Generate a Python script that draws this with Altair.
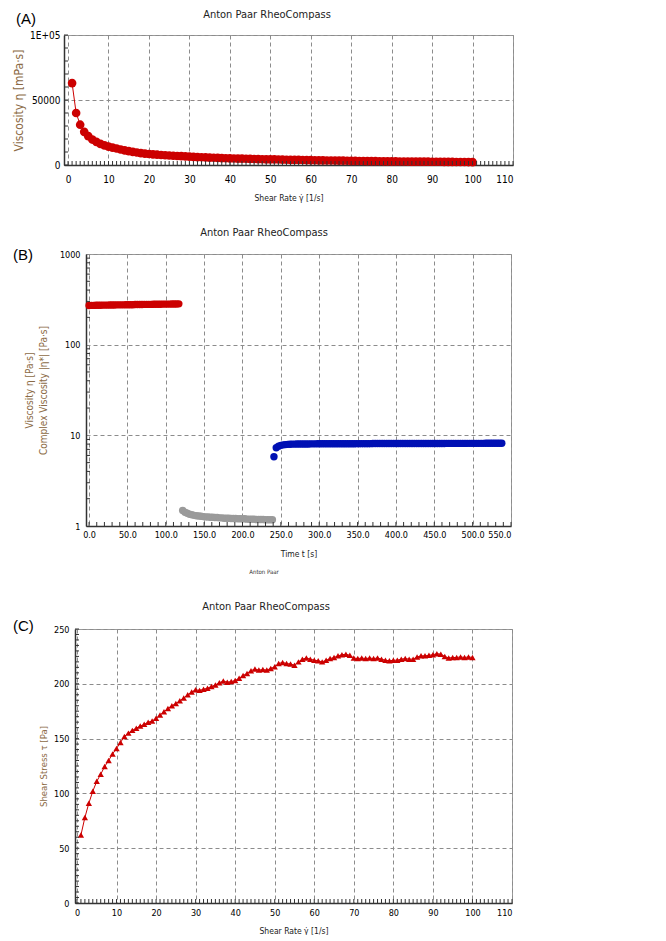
import altair as alt
import pandas as pd

# ---------------- data ----------------
rate = list(range(1, 101))

stress = [62, 78, 91, 102, 111, 117.5, 124.5, 130, 136, 141,
          146.5, 152, 155, 157.5, 159.5, 161.5, 163, 165, 166, 168.5,
          171.5, 174.5, 177.5, 180, 182, 184.5, 187, 190, 192.5, 194.5,
          194, 195, 196, 197.5, 199, 201, 202.5, 201.5, 202, 203,
          205, 207.5, 209.5, 212, 213.5, 212.5, 213, 212.5, 214, 215.5,
          218.5, 219.5, 218.5, 218, 217, 220, 222.5, 223.5, 222.5, 221.5,
          221, 220, 221.5, 223, 224, 225.5, 226.5, 227, 226, 223.5,
          223, 223.5, 223, 223.5, 223, 223.5, 222.5, 221.5, 221, 221.5,
          221.5, 222.5, 223, 222.5, 222.5, 224.5, 225.5, 225.5, 226, 226.5,
          227.5, 227, 225, 223.5, 224, 224, 224.5, 224, 224.5, 224]

visc = [63000, 40000, 31000, 25500, 22200, 19580, 17790, 16250, 15110, 14100,
        13320, 12670, 11920, 11250, 10630, 10090, 9590, 9170, 8740, 8430,
        8170, 7930, 7720, 7500, 7280, 7100, 6930, 6790, 6640, 6480,
        6260, 6090, 5940, 5810, 5690, 5580, 5470, 5300, 5180, 5080,
        5000, 4940, 4870, 4820, 4740, 4620, 4530, 4430, 4370, 4310,
        4280, 4220, 4120, 4040, 3950, 3930, 3900, 3850, 3770, 3690,
        3620, 3550, 3520, 3480, 3450, 3420, 3380, 3340, 3280, 3190,
        3140, 3100, 3050, 3020, 2970, 2940, 2890, 2840, 2800, 2770,
        2730, 2710, 2690, 2650, 2620, 2610, 2590, 2560, 2540, 2520,
        2500, 2470, 2420, 2380, 2360, 2330, 2310, 2290, 2270, 2240]

red_t = [0, 3, 6, 9, 12, 15, 18, 21, 24, 27, 30, 33, 36, 39, 42, 45, 48, 51, 54, 57,
         60, 63, 66, 69, 72, 75, 78, 81, 84, 87, 90, 93, 96, 99, 102, 105, 108, 111, 114, 117]
red_v = [270, 271, 271, 272, 272, 272, 273, 273, 273, 274, 274, 274, 275, 275, 275, 275,
         276, 276, 276, 276, 277, 277, 277, 277, 278, 278, 278, 278, 279, 279, 279, 279,
         280, 280, 280, 280, 281, 281, 281, 282]

gray_t = [122, 125, 128, 131, 134, 137, 140, 143, 146, 149, 152, 155, 158, 161, 164, 167,
          170, 173, 176, 179, 182, 185, 188, 191, 194, 197, 200, 203, 206, 209, 212, 215,
          218, 221, 224, 227, 230, 233, 236, 239]
gray_v = [1.48, 1.42, 1.38, 1.35, 1.33, 1.31, 1.30, 1.29, 1.28, 1.27, 1.26, 1.26, 1.25,
          1.25, 1.24, 1.24, 1.23, 1.23, 1.22, 1.22, 1.22, 1.21, 1.21, 1.21, 1.20, 1.20,
          1.20, 1.20, 1.19, 1.19, 1.19, 1.19, 1.18, 1.18, 1.18, 1.18, 1.17, 1.17, 1.17, 1.17]

blue_t = list(range(241, 539, 3))
blue_v = [5.8, 7.3, 7.6, 7.75, 7.85, 7.9, 7.95, 7.97, 8.0, 8.0,
          8.02, 8.02, 8.03, 8.03, 8.04, 8.04, 8.05, 8.05, 8.05, 8.06,
          8.06, 8.06, 8.07, 8.07, 8.07, 8.07, 8.08, 8.08, 8.08, 8.08,
          8.08, 8.09, 8.09, 8.09, 8.09, 8.09, 8.1, 8.1, 8.1, 8.1,
          8.1, 8.1, 8.1, 8.11, 8.11, 8.11, 8.11, 8.11, 8.11, 8.11,
          8.12, 8.12, 8.12, 8.12, 8.12, 8.12, 8.12, 8.12, 8.13, 8.13,
          8.13, 8.13, 8.13, 8.13, 8.13, 8.13, 8.14, 8.14, 8.14, 8.14,
          8.14, 8.14, 8.14, 8.14, 8.14, 8.15, 8.15, 8.15, 8.15, 8.15,
          8.15, 8.15, 8.15, 8.15, 8.16, 8.16, 8.16, 8.16, 8.16, 8.16,
          8.16, 8.16, 8.17, 8.17, 8.17, 8.17, 8.17, 8.17, 8.17, 8.17]

# tick positions / labels
A_xticks = list(range(0, 111, 10))
A_xminor = list(range(0, 111, 1))
A_yticks = [0, 50000, 100000]
A_yminor = list(range(0, 100001, 10000))
B_xticks = list(range(0, 551, 50))
B_xminor = list(range(0, 551, 10))
B_yticks = [1, 10, 100, 1000]
B_yminor = [2, 3, 4, 5, 6, 7, 8, 9, 20, 30, 40, 50, 60, 70, 80, 90,
            200, 300, 400, 500, 600, 700, 800, 900]
C_xticks = list(range(0, 111, 10))
C_xminor = list(range(0, 111, 1))
C_yticks = list(range(0, 251, 50))
C_yminor = list(range(0, 251, 5))

TITLE = "Anton Paar RheoCompass"

# ---------------- style ----------------
FN = "DejaVu Sans Condensed, Liberation Sans Narrow, Liberation Sans, Arial, sans-serif"
FP = "Liberation Sans, Arial, sans-serif"
RED = "#cc0000"
GRAY = "#9a9a9a"
BLUE = "#0010b4"
GRID = "#8c8c8c"
AXC = "#333333"
YT = "#8b6a45"
VIEW = alt.ViewBackground(stroke="#9a9a9a", strokeWidth=1)


def ax(**kw):
    base = dict(grid=True, gridColor=GRID, gridDash=[4, 3], gridWidth=1,
                domainColor=AXC, domainWidth=1.5, ticks=False, tickSize=0,
                labelFont=FN, labelColor="#000000", labelOverlap=False, titleFont=FN,
                titleFontWeight="normal", titleColor="#222222")
    base.update(kw)
    return alt.Axis(**base)


def label_text(txt, x, y, size=15, font=FP, color="#000000", align="left"):
    return alt.Chart(pd.DataFrame({"t": [txt]})).mark_text(
        align=align, baseline="middle", font=font, fontSize=size, color=color
    ).encode(x=alt.value(x), y=alt.value(y), text="t:N")


def minor_x(vals, xenc, h, ln=4):
    return alt.Chart(pd.DataFrame({"v": vals})).mark_rule(color=AXC, strokeWidth=1).encode(
        x=xenc("v"), y=alt.value(h), y2=alt.value(h - ln))


def minor_y(vals, yenc, ln=4):
    return alt.Chart(pd.DataFrame({"v": vals})).mark_rule(color=AXC, strokeWidth=1).encode(
        y=yenc("v"), x=alt.value(0), x2=alt.value(ln))


def spacer(w):
    return alt.Chart(pd.DataFrame({"a": [0]})).mark_point(opacity=0, size=1).encode(
        x=alt.value(0), y=alt.value(0)
    ).properties(width=w, height=2, view=alt.ViewBackground(stroke="transparent"))


# ---------------- panel A ----------------
wA, hA = 449, 130
sAx = alt.Scale(domain=[-1, 110], nice=False, zero=False)
sAy = alt.Scale(domain=[0, 100000], nice=False)
axAx = ax(values=A_xticks, labelFontSize=10, labelPadding=9,
          title="Shear Rate γ̇ [1/s]", titleFontSize=8.5, titlePadding=9)
axAy = ax(values=A_yticks, labelFontSize=10, labelPadding=4,
          labelExpr="datum.value >= 100000 ? '1E+05' : '' + datum.value",
          title="Viscosity η [mPa·s]", titleFontSize=12, titleColor=YT, titlePadding=4)
xA = lambda f: alt.X(f + ":Q", scale=sAx, axis=axAx)
yA = lambda f: alt.Y(f + ":Q", scale=sAy, axis=axAy)
dfA = pd.DataFrame({"rate": rate, "visc": visc})
lineA = alt.Chart(dfA).mark_line(color=RED, strokeWidth=1).encode(x=xA("rate"), y=yA("visc"))
ptsA = alt.Chart(dfA).mark_circle(color=RED, size=75, opacity=1).encode(x=xA("rate"), y=yA("visc"))
panelA = alt.layer(
    lineA, ptsA, minor_x(A_xminor, xA, hA), minor_y(A_yminor, yA),
    label_text("(A)", -48, -16),
    label_text(TITLE, 203, -20, size=11, font=FN, color="#222222", align="center"),
).properties(width=wA, height=hA, view=VIEW)

# ---------------- panel B ----------------
wB, hB = 425, 272
sBx = alt.Scale(domain=[-4, 550], nice=False, zero=False)
sBy = alt.Scale(type="log", domain=[1, 1000], nice=False)
axBx = ax(values=B_xticks, format=".1f", labelFontSize=9, labelPadding=4,
          title="Time t [s]", titleFontSize=8.5, titlePadding=10)
axBy = ax(values=B_yticks, labelFontSize=9, labelPadding=6, labelExpr="'' + datum.value",
          title=["Viscosity η [Pa·s]", "Complex Viscosity |η*| [Pa·s]"],
          titleFontSize=10, titleColor=YT, titlePadding=11, titleLineHeight=14)
xB = lambda f: alt.X(f + ":Q", scale=sBx, axis=axBx)
yB = lambda f: alt.Y(f + ":Q", scale=sBy, axis=axBy)
dfR = pd.DataFrame({"t": red_t, "v": red_v})
dfG = pd.DataFrame({"t": gray_t, "v": gray_v})
dfBl = pd.DataFrame({"t": blue_t, "v": blue_v})
redB = alt.Chart(dfR).mark_circle(color=RED, size=55, opacity=1).encode(x=xB("t"), y=yB("v"))
grayB = alt.Chart(dfG).mark_circle(color=GRAY, size=55, opacity=1).encode(x=xB("t"), y=yB("v"))
blueB = alt.Chart(dfBl).mark_circle(color=BLUE, size=55, opacity=1).encode(x=xB("t"), y=yB("v"))
panelB = alt.layer(
    redB, grayB, blueB, minor_x(B_xminor, xB, hB), minor_y(B_yminor, yB),
    label_text("(B)", -73, 1),
    label_text(TITLE, 178, -21, size=11, font=FN, color="#222222", align="center"),
    label_text("Anton Paar", 178, hB + 46, size=6, font=FN, color="#333333", align="center"),
).properties(width=wB, height=hB, view=VIEW)

# ---------------- panel C ----------------
wC, hC = 437, 274
sCx = alt.Scale(domain=[-0.5, 110], nice=False, zero=False)
sCy = alt.Scale(domain=[0, 250], nice=False)
axCx = ax(values=C_xticks, labelFontSize=9, labelPadding=5,
          title="Shear Rate γ̇ [1/s]", titleFontSize=8.5, titlePadding=9)
axCy = ax(values=C_yticks, labelFontSize=9, labelPadding=6,
          title="Shear Stress τ [Pa]", titleFontSize=9.5, titleColor=YT, titlePadding=5)
xC = lambda f: alt.X(f + ":Q", scale=sCx, axis=axCx)
yC = lambda f: alt.Y(f + ":Q", scale=sCy, axis=axCy)
dfC = pd.DataFrame({"rate": rate, "stress": stress})
lineC = alt.Chart(dfC).mark_line(color=RED, strokeWidth=1).encode(x=xC("rate"), y=yC("stress"))
ptsC = alt.Chart(dfC).mark_point(shape="triangle-up", filled=True, color=RED, size=40,
                                 opacity=1).encode(x=xC("rate"), y=yC("stress"))
panelC = alt.layer(
    lineC, ptsC, minor_x(C_xminor, xC, hC), minor_y(C_yminor, yC),
    label_text("(C)", -62, -3),
    label_text(TITLE, 191, -22, size=11, font=FN, color="#222222", align="center"),
).properties(width=wC, height=hC, view=VIEW)

chart = alt.vconcat(
    alt.hconcat(spacer(2), panelA, spacing=0),
    alt.hconcat(spacer(2), panelB, spacing=0),
    alt.hconcat(spacer(2), panelC, spacing=0),
    spacing=24,
).properties(padding={"left": 0, "top": 0, "right": 5, "bottom": 0})

chart.save("out.html", embed_options={"renderer": "svg", "actions": False})
